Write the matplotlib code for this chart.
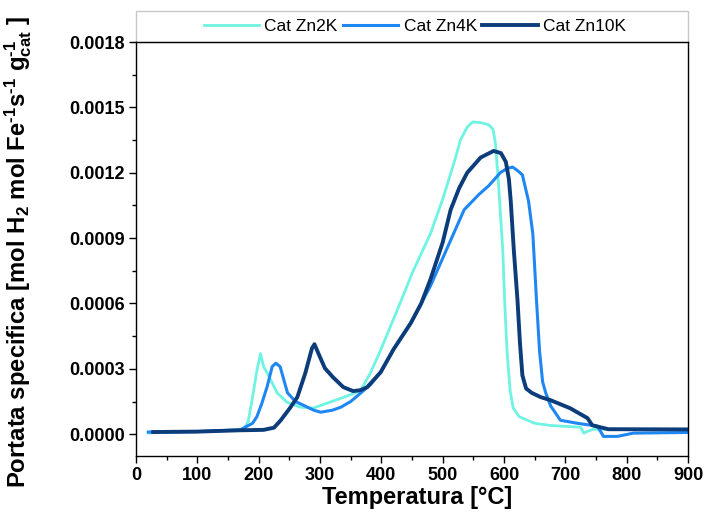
import matplotlib
matplotlib.use("Agg")
import matplotlib.pyplot as plt
from matplotlib.patches import Rectangle
from matplotlib.ticker import MultipleLocator, FormatStrFormatter

plt.rcParams['font.family'] = ['Liberation Sans', 'DejaVu Sans']
plt.rcParams['mathtext.fontset'] = 'custom'
plt.rcParams['mathtext.rm'] = 'Liberation Sans:bold'
plt.rcParams['mathtext.bf'] = 'Liberation Sans:bold'
plt.rcParams['mathtext.it'] = 'Liberation Sans:bold'
plt.rcParams['mathtext.default'] = 'bf'

labels = ["Cat Zn2K", "Cat Zn4K", "Cat Zn10K"]
colors = ["#6FF3E2", "#1F87F2", "#0C3C7A"]

t_zn2k = [20, 50, 100, 150, 175, 183, 190, 197, 203, 208, 216, 230, 246, 268, 289, 316, 344, 366, 382,
          398, 426, 452, 480, 499, 508, 520, 529, 540, 549, 562, 575, 582, 586, 591, 598, 601, 605, 610,
          615, 625, 650, 676, 700, 725, 730, 735, 746, 770, 800, 850, 900]
v_zn2k = [0.000005, 0.00001, 0.000012, 0.000018, 0.00002, 0.00006, 0.00017, 0.00029, 0.00037, 0.00031,
          0.00027, 0.00019, 0.000147, 0.000124, 0.00012, 0.000147, 0.000175, 0.0002, 0.00028,
          0.00038, 0.00057, 0.00075, 0.00092, 0.00107, 0.00115, 0.00126, 0.00135, 0.00141, 0.001433,
          0.00143, 0.00142, 0.0014, 0.001336, 0.00115, 0.000845, 0.000615, 0.00038, 0.0002,
          0.00012, 0.00008, 0.00005, 0.00004, 0.000036, 0.000032, 0.000005, 0.000012, 0.000023,
          0.000022, 0.000022, 0.000022, 0.000022]

t_zn4k = [20, 100, 170, 190, 197, 205, 214, 222, 228, 235, 247, 260, 273, 290, 301, 320, 334, 350, 366,
          383, 399, 420, 448, 480, 513, 535, 559, 575, 594, 605, 614, 622, 630, 640, 647, 653, 658, 663,
          668, 676, 692, 720, 752, 758, 762, 785, 811, 900]
v_zn4k = [0.00001, 0.000012, 0.00002, 0.00005, 0.00008, 0.00014, 0.00022, 0.00031, 0.000326, 0.00031,
          0.00019, 0.00015, 0.000133, 0.00011, 0.000101, 0.00011, 0.000124, 0.00015, 0.000188,
          0.00023, 0.000285, 0.00039, 0.00051, 0.00068, 0.00089, 0.00103, 0.0011, 0.00114, 0.0012,
          0.00122, 0.001226, 0.00121, 0.00119, 0.00107, 0.00092, 0.000615, 0.00038, 0.00024,
          0.00019, 0.00013, 0.000064, 0.00005, 0.000037, 0.00001, -0.00001, -0.00001, 0.000005, 0.000008]

t_zn10k = [28, 100, 170, 208, 225, 236, 252, 263, 276, 287, 291, 300, 308, 321, 338, 354, 366, 377, 399,
           420, 448, 465, 480, 500, 513, 527, 540, 562, 583, 595, 603, 608, 611, 616, 622, 626, 630, 636,
           645, 660, 676, 708, 736, 744, 760, 770, 900]
v_zn10k = [0.00001, 0.000012, 0.000018, 0.00002, 0.00003, 0.000064, 0.000124, 0.00017, 0.00028, 0.000395,
           0.000413, 0.000354, 0.000303, 0.000262, 0.000216, 0.000198, 0.000202, 0.000216, 0.000285,
           0.00039, 0.00051, 0.0006, 0.00071, 0.00088, 0.00103, 0.00113, 0.0012, 0.00127, 0.0013,
           0.00129, 0.00125, 0.00117, 0.00107, 0.000845, 0.000615, 0.00042, 0.00027, 0.00021,
           0.00019, 0.00017, 0.000156, 0.000119, 0.000074, 0.000041, 0.00003, 0.000023, 0.000022]

fig = plt.figure(figsize=(7.07, 5.21), dpi=100)
ax = fig.add_axes([136/707, 1-456/521, 552/707, 414/521])

ax.plot(t_zn2k, v_zn2k, color=colors[0], lw=2.0, label=labels[0])
ax.plot(t_zn4k, v_zn4k, color=colors[1], lw=2.2, label=labels[1])
ax.plot(t_zn10k, v_zn10k, color=colors[2], lw=2.8, label=labels[2])

ax.set_xlim(0, 900)
ax.set_ylim(-0.0001, 0.0018)
ax.xaxis.set_major_locator(MultipleLocator(100))
ax.xaxis.set_minor_locator(MultipleLocator(50))
ax.yaxis.set_major_locator(MultipleLocator(0.0003))
ax.yaxis.set_minor_locator(MultipleLocator(0.00015))
ax.yaxis.set_major_formatter(FormatStrFormatter('%.4f'))
ax.tick_params(which='major', direction='out', length=5, width=1, labelsize=13, pad=3)
ax.tick_params(which='minor', direction='out', length=3, width=1)
for lab in ax.get_xticklabels() + ax.get_yticklabels():
    lab.set_fontweight('bold')
for s in ax.spines.values():
    s.set_linewidth(1.0)
    s.set_color('black')

ax.set_xlabel('Temperatura [°C]', fontsize=17, fontweight='bold')
ax.xaxis.set_label_coords(0.51, -0.072)
ax.set_ylabel(r'Portata specifica [mol H$_{2}$ mol Fe$^{\text{-1}}$s$^{\text{-1}}$ g$_{cat}^{\text{-1}}$ ]',
              fontsize=17.2, fontweight='bold')
ax.yaxis.set_label_coords(-0.185, 0.493)

# legend box spanning axes width above the plot
ax.add_patch(Rectangle((0, 1), 1, 31/414, transform=ax.transAxes, clip_on=False,
                       facecolor='white', edgecolor='#c8c8c8', lw=1.0, zorder=1))
leg = ax.legend(loc='center', bbox_to_anchor=(0.505, 1 + 15.5/414), ncol=3, frameon=False,
                fontsize=12.5, handlelength=3.2, handletextpad=0.3, columnspacing=0.3, borderaxespad=0)
leg.set_zorder(5)
ax.spines['top'].set_zorder(6)

fig.savefig('out.png', dpi=100)
